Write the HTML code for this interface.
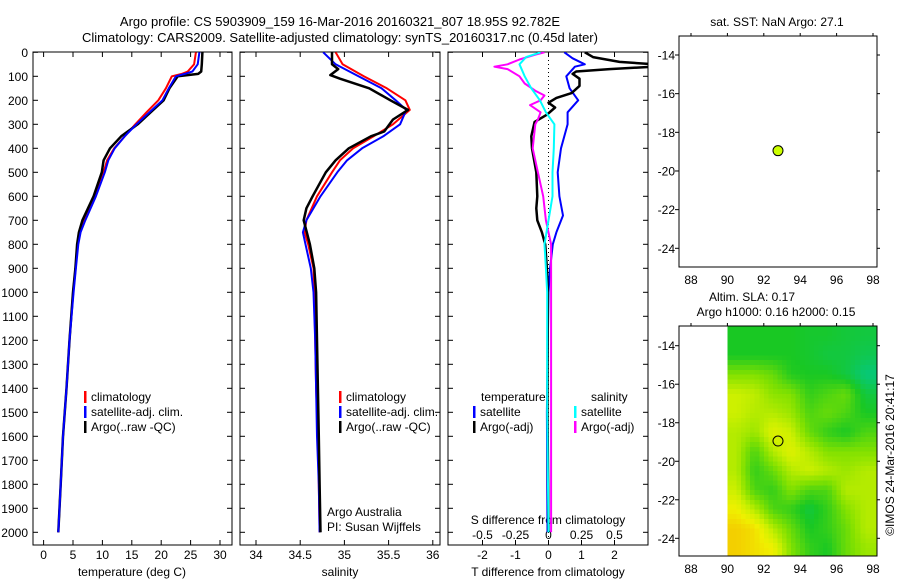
<!DOCTYPE html>
<html><head><meta charset="utf-8"><style>
body{margin:0;background:#fff}
svg{display:block;font-family:"Liberation Sans",sans-serif}
text{font-size:12px;fill:#000}
</style></head><body>
<svg id="c" width="900" height="580" viewBox="0 0 900 580">
<defs>
<clipPath id="cp1"><rect x="33" y="52" width="199" height="493"/></clipPath>
<clipPath id="cp2"><rect x="240" y="52" width="200" height="493"/></clipPath>
<clipPath id="cp3"><rect x="448" y="52" width="200" height="493"/></clipPath>
</defs>
<text x="340" y="26" text-anchor="middle" style="font-size:13px">Argo profile: CS 5903909_159 16-Mar-2016 20160321_807 18.95S 92.782E</text>
<text x="340" y="42" text-anchor="middle" style="font-size:13px">Climatology: CARS2009. Satellite-adjusted climatology: synTS_20160317.nc (0.45d later)</text>
<g id="g"></g>
</svg>
<script>
// ---------- data ----------
const depthTicks=[0,100,200,300,400,500,600,700,800,900,1000,1100,1200,1300,1400,1500,1600,1700,1800,1900,2000];
const tempTicks=[0,5,10,15,20,25,30];
const salTicks=[34,34.5,35,35.5,36];
const salTickLabels=["34","34.5","35","35.5","36"];
const tdTicks=[-2,-1,0,1,2];
const sdTicks=[-0.5,-0.25,0,0.25,0.5];
const sdTickLabels=["-0.5","-0.25","0","0.25","0.5"];

const tDepth=[0,50,80,90,100,150,200,250,300,350,400,450,500,600,700,750,800,900,1000,1200,1400,1600,1800,2000];
const tClim=[25.9,25.6,24.5,23.5,21.8,20.8,19.5,17.5,15.6,13.8,12.0,10.8,10.2,8.7,6.9,6.2,5.8,5.4,5.0,4.4,3.9,3.3,2.9,2.5];
const tSat=[26.5,26.2,25.3,24.0,22.5,21.3,20.2,18.0,15.8,13.8,12.1,11.0,10.4,8.9,7.1,6.3,5.9,5.5,5.1,4.4,3.9,3.3,2.9,2.5];
const tArgo=[27.0,26.9,26.8,26.3,22.8,21.4,20.4,18.2,16.0,13.2,11.3,10.2,9.9,8.5,6.6,6.0,5.7,5.4,5.0,4.4,3.9,3.3,2.9,2.5];

const sDepth=[0,50,100,150,200,240,300,350,400,450,500,600,700,750,800,900,1000,1200,1400,1600,1800,2000];
const sClim=[34.90,34.98,35.22,35.48,35.69,35.74,35.55,35.33,35.10,34.95,34.86,34.69,34.57,34.55,34.59,34.65,34.66,34.67,34.68,34.70,34.71,34.72];
const sSat=[34.76,34.90,35.16,35.42,35.58,35.70,35.63,35.44,35.20,35.03,34.92,34.73,34.57,34.53,34.56,34.62,34.65,34.67,34.68,34.69,34.71,34.72];
const sArgoDepth=[0,50,70,95,110,150,200,240,280,330,350,400,450,500,600,650,700,800,900,1000,1200,1400,1600,1800,2000];
const sArgo=[34.86,34.86,34.93,34.84,34.95,35.28,35.52,35.72,35.55,35.45,35.30,35.05,34.90,34.79,34.64,34.57,34.54,34.61,34.66,34.68,34.69,34.70,34.71,34.72,34.73];

const dtSatDepth=[0,25,50,60,100,150,200,250,300,400,500,600,680,750,800,900,1000,1500,2000];
const dtSat=[0.48,0.73,1.1,0.8,0.54,0.64,0.9,0.58,0.58,0.38,0.28,0.33,0.44,0.24,0.13,0.05,0.0,-0.05,-0.03];
const dtArgoDepth=[0,20,40,50,60,70,80,90,110,140,170,190,210,230,260,290,350,400,500,600,650,700,750,800,900,1000,1500,2000];
const dtArgo=[1.1,1.35,2.15,3.2,3.2,1.85,0.84,0.73,0.94,0.94,0.7,0.24,0.0,0.2,-0.05,-0.42,-0.52,-0.5,-0.37,-0.34,-0.37,-0.34,-0.2,-0.1,-0.05,-0.02,-0.03,0.0];
const dsSatDepth=[0,20,50,100,150,200,250,300,400,500,600,700,800,900,1000,1500,2000];
const dsSat=[-0.06,-0.17,-0.22,-0.18,-0.13,-0.065,-0.02,0.045,0.04,0.03,0.03,0.0,-0.03,-0.02,-0.01,-0.01,0.0];
const dsArgoDepth=[0,10,30,50,60,70,100,130,160,180,200,220,250,280,300,400,500,600,700,800,1000,1500,2000];
const dsArgo=[-0.03,-0.1,-0.22,-0.31,-0.41,-0.31,-0.22,-0.18,-0.1,-0.03,-0.06,-0.14,-0.06,-0.08,-0.1,-0.12,-0.08,-0.04,-0.02,0.02,0.02,0.02,0.02];

const lonTicks=[88,90,92,94,96,98];
const latTicks=[-14,-16,-18,-20,-22,-24];
const argoLon=[92.78];
const argoLat=[-18.95];
// SLA heatmap (rows lat -13..-25 by 1 deg, cols lon 90..98)
const slaLatEdges=[-13,-14,-15,-16,-17,-18,-19,-20,-21,-22,-23,-24,-25];
const slaLonEdges=[90,91,92,93,94,95,96,97,98.2];
const slaGrid=[
[0.30,0.30,0.30,0.30,0.28,0.28,0.26,0.25],
[0.30,0.30,0.30,0.30,0.28,0.25,0.25,0.22],
[0.50,0.50,0.45,0.32,0.30,0.30,0.25,0.15],
[0.65,0.62,0.52,0.50,0.35,0.40,0.45,0.25],
[0.65,0.60,0.60,0.55,0.40,0.45,0.40,0.30],
[0.60,0.55,0.70,0.65,0.45,0.35,0.30,0.40],
[0.60,0.40,0.60,0.70,0.60,0.50,0.50,0.50],
[0.60,0.35,0.45,0.60,0.65,0.60,0.55,0.60],
[0.65,0.40,0.35,0.50,0.40,0.40,0.60,0.60],
[0.75,0.60,0.40,0.35,0.25,0.35,0.50,0.60],
[0.85,0.80,0.60,0.45,0.30,0.35,0.45,0.60],
[0.85,0.80,0.75,0.50,0.35,0.30,0.45,0.55]];

// ---------- scales ----------
const yD=d=>52.3+d*0.24;
const xT=t=>43.6+t*5.88;
const xS=s=>256+(s-34)*88.4;
const xTD=t=>548.5+t*33;
const xSD=s=>548.5+s*132;
const xLon=l=>691+(l-88)*18.2;
const yLat1=l=>55+(-14-l)*19.33;
const yLat2=l=>345.7+(-14-l)*19.26;

const NS="http://www.w3.org/2000/svg";
const G=document.getElementById('g');
function mk(tag,attrs,parent){const e=document.createElementNS(NS,tag);for(const k in attrs)e.setAttribute(k,attrs[k]);(parent||G).appendChild(e);return e;}
function txt(x,y,s,anchor,parent){const e=mk('text',{x:x,y:y,'text-anchor':anchor||'start'},parent);e.textContent=s;return e;}

// ---------- panels ----------
const panels=[{x:33,w:199,name:'temperature-panel'},{x:240,w:200,name:'salinity-panel'},{x:448,w:200,name:'difference-panel'}];
panels.forEach((p,i)=>{
  const r=mk('rect',{x:p.x,y:52,width:p.w,height:493,fill:'none',stroke:'#000','stroke-width':1});
  
  
  depthTicks.forEach(d=>{
    mk('line',{x1:p.x,x2:p.x+5,y1:yD(d),y2:yD(d),stroke:'#000'});
    mk('line',{x1:p.x+p.w-5,x2:p.x+p.w,y1:yD(d),y2:yD(d),stroke:'#000'});
  });
});
depthTicks.forEach(d=>{
  const t=txt(28,yD(d)+4.5,String(d),'end');
  
  
});
function xticks(vals,labels,fx,ly){
  vals.forEach((v,i)=>{
    mk('line',{x1:fx(v),x2:fx(v),y1:52,y2:57,stroke:'#000'});
    mk('line',{x1:fx(v),x2:fx(v),y1:540,y2:545,stroke:'#000'});
    const t=txt(fx(v),ly,labels[i],'middle');
    
    
  });
}
xticks(tempTicks,tempTicks.map(String),xT,559);
xticks(salTicks,salTickLabels,xS,559);
xticks(tdTicks,tdTicks.map(String),xTD,559);
sdTicks.forEach((v,i)=>{const t=txt(xSD(v),539,sdTickLabels[i],'middle');
  
  });
[[132,'temperature (deg C)','x-axis-title-temperature'],[340,'salinity','x-axis-title-salinity'],[548,'T difference from climatology','x-axis-title-t-difference']].forEach(a=>{
  const t=txt(a[0],576,a[1],'middle');
  
  
});
const sdt=txt(548,524,'S difference from climatology','middle');


const zl=mk('line',{x1:548.5,x2:548.5,y1:52,y2:545,stroke:'#000','stroke-dasharray':'1,3'});



function series(xs,ds,fx,color,clip,name,w){
  const pts=xs.map((v,i)=>fx(v).toFixed(1)+','+yD(ds[i]).toFixed(1)).join(' ');
  const e=mk('polyline',{points:pts,fill:'none',stroke:color,'stroke-width':w||2,'clip-path':'url(#'+clip+')','stroke-linejoin':'round'});
  
  
}
series(tClim,tDepth,xT,'#f00','cp1','temp-climatology-line');
series(tArgo,tDepth,xT,'#000','cp1','temp-argo-line',2.5);
series(tSat,tDepth,xT,'#00f','cp1','temp-satellite-line');
series(sClim,sDepth,xS,'#f00','cp2','sal-climatology-line');
series(sSat,sDepth,xS,'#00f','cp2','sal-satellite-line');
series(sArgo,sArgoDepth,xS,'#000','cp2','sal-argo-line',2.5);
series(dtSat,dtSatDepth,xTD,'#00f','cp3','t-diff-satellite-line');
series(dtArgo,dtArgoDepth,xTD,'#000','cp3','t-diff-argo-line',2.5);
series(dsArgo,dsArgoDepth,xSD,'#f0f','cp3','s-diff-argo-line');
series(dsSat,dsSatDepth,xSD,'#0ff','cp3','s-diff-satellite-line');

function leg(x,y,color,label,name){
  mk('rect',{x:x,y:y-10,width:2.5,height:12,fill:color});
  const t=txt(x+7,y,label);
  
  
}
[[84,'temp'],[339,'sal']].forEach(a=>{
  leg(a[0],401,'#f00','climatology',a[1]+'-legend-climatology');
  leg(a[0],416,'#00f','satellite-adj. clim.',a[1]+'-legend-satellite');
  leg(a[0],431,'#000','Argo(..raw -QC)',a[1]+'-legend-argo');
});
const lt=txt(481,401,'temperature');
const ls=txt(591,401,'salinity');
leg(473,416,'#00f','satellite','diff-legend-t-satellite');
leg(473,431,'#000','Argo(-adj)','diff-legend-t-argo');
leg(574,416,'#0ff','satellite','diff-legend-s-satellite');
leg(574,431,'#f0f','Argo(-adj)','diff-legend-s-argo');
const a1=txt(327,516,'Argo Australia');
const a2=txt(327,531,'PI: Susan Wijffels');

// ---------- maps ----------
function mapFrame(top,bot,yl,name){
  const r=mk('rect',{x:679,y:top,width:198,height:bot-top,fill:'none',stroke:'#000'});
  
  
  lonTicks.forEach(l=>{
    mk('line',{x1:xLon(l),x2:xLon(l),y1:top-3,y2:top,stroke:'#000'});
    const t=txt(xLon(l),bot+17,String(l),'middle');
    
    
  });
  latTicks.forEach(l=>{
    mk('line',{x1:675,x2:679,y1:yl(l),y2:yl(l),stroke:'#000'});
    mk('line',{x1:877,x2:880,y1:yl(l),y2:yl(l),stroke:'#000'});
    const t=txt(675,yl(l)+4.5,String(l),'end');
    
    
  });
}
function col(v){
  const stops=[[0.1,[0,200,150]],[0.3,[25,200,35]],[0.5,[130,225,0]],[0.65,[205,240,0]],[0.75,[240,240,0]],[0.9,[245,190,0]]];
  if(v<=stops[0][0])return 'rgb('+stops[0][1]+')';
  for(let i=1;i<stops.length;i++){if(v<=stops[i][0]){const f=(v-stops[i-1][0])/(stops[i][0]-stops[i-1][0]);const a=stops[i-1][1],b=stops[i][1];return 'rgb('+a.map((c,k)=>Math.round(c+(b[k]-c)*f)).join(',')+')';}}
  return 'rgb('+stops[stops.length-1][1]+')';
}
// bilinear sampling of grid at cell centres
const nR=slaGrid.length,nC=slaGrid[0].length;
function samp(fr,fc){
  fr=Math.max(0,Math.min(nR-1,fr));fc=Math.max(0,Math.min(nC-1,fc));
  const r0=Math.floor(fr),c0=Math.floor(fc),r1=Math.min(nR-1,r0+1),c1=Math.min(nC-1,c0+1);
  const a=fr-r0,b=fc-c0;
  return slaGrid[r0][c0]*(1-a)*(1-b)+slaGrid[r0][c1]*(1-a)*b+slaGrid[r1][c0]*a*(1-b)+slaGrid[r1][c1]*a*b;
}
const hm=mk('g',{'shape-rendering':'crispEdges'});


const SUB=4;
for(let i=0;i<nR;i++)for(let si=0;si<SUB;si++){
  const la0=slaLatEdges[i]+(slaLatEdges[i+1]-slaLatEdges[i])*si/SUB;
  const la1=slaLatEdges[i]+(slaLatEdges[i+1]-slaLatEdges[i])*(si+1)/SUB;
  const fr=i+(si+0.5)/SUB-0.5;
  for(let j=0;j<nC;j++)for(let sj=0;sj<SUB;sj++){
    const lo0=slaLonEdges[j]+(slaLonEdges[j+1]-slaLonEdges[j])*sj/SUB;
    const lo1=slaLonEdges[j]+(slaLonEdges[j+1]-slaLonEdges[j])*(sj+1)/SUB;
    const fc=j+(sj+0.5)/SUB-0.5;
    const y0=Math.max(yLat2(la0),326),y1=Math.min(yLat2(la1),556);
    const c=mk('rect',{x:xLon(lo0),y:y0,width:xLon(lo1)-xLon(lo0)+0.6,height:y1-y0+0.6,fill:col(samp(fr,fc))},hm);
    
    
  }
}
mapFrame(36,267,yLat1,'sst-map-frame');
mapFrame(326,556,yLat2,'sla-map-frame');
const d1=mk('circle',{cx:xLon(argoLon[0]),cy:yLat1(argoLat[0]),r:5,fill:'#ccff00',stroke:'#000'});


const d2=mk('circle',{cx:xLon(argoLon[0]),cy:yLat2(argoLat[0]),r:5,fill:'none',stroke:'#000'});


const m1=txt(777,26,'sat. SST: NaN Argo: 27.1','middle');
const m2=txt(752,301,'Altim. SLA: 0.17','middle');
const m3=txt(776,316,'Argo h1000: 0.16 h2000: 0.15','middle');
const cr=txt(0,0,'©IMOS 24-Mar-2016 20:41:17','middle');
cr.setAttribute('transform','translate(894,455) rotate(-90)');


</script>
</body></html>
